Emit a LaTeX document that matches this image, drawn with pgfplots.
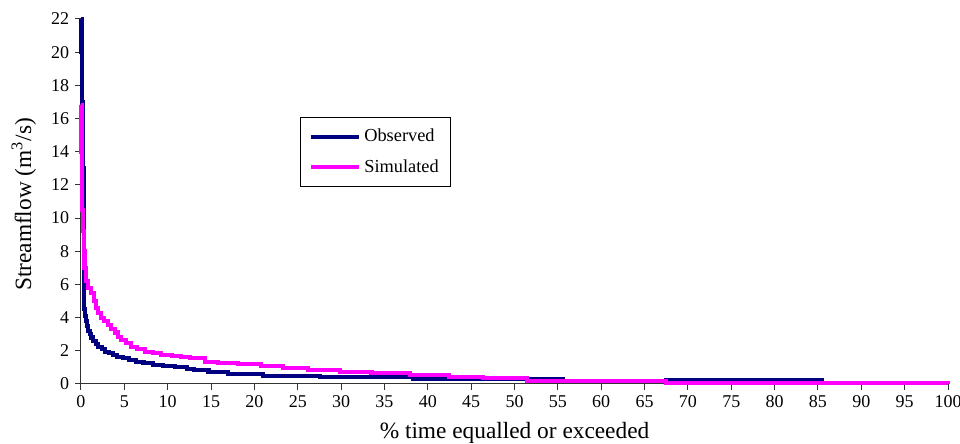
\documentclass[border=0pt]{standalone}
\usepackage{pgfplots}
\pgfplotsset{compat=1.18}
\usepackage{fontspec}
\setmainfont{Liberation Serif}
\definecolor{obs}{RGB}{0,0,128}
\definecolor{sim}{RGB}{255,0,255}
\begin{document}
\begin{tikzpicture}
\useasboundingbox (0,0) rectangle (576pt,266.4pt);
\begin{axis}[
    at={(48.6pt,36pt)}, anchor=south west,
    scale only axis,
    width=520.2pt, height=219pt,
    xmin=0, xmax=100, ymin=0, ymax=22,
    xtick={0,5,...,100}, ytick={0,2,...,22},
    axis x line*=bottom, axis y line*=left,
    axis line style={-, black!80, line width=0.6pt},
    tick style={black!80, line width=0.6pt},
    tick align=outside, major tick length=3.6pt,
    /pgf/number format/assume math mode=true,
    tick label style={font=\fontsize{10.8}{12}\selectfont},
    label style={font=\fontsize{14}{16}\selectfont},
    xlabel={\% time equalled or exceeded},
    ylabel={Streamflow (m\textsuperscript{3}/s)},
    xlabel style={at={(rel axis cs:0.5,-0.134)}, anchor=center},
    ylabel style={at={(rel axis cs:-0.066,0.492)}, anchor=center},
    clip=false,
    legend cell align=left,
    legend image code/.code={\draw[#1] (0pt,0pt) -- (28.8pt,0pt);},
    legend style={at={(rel axis cs:0.2526,0.7315)}, anchor=north west,
      draw=black, line width=0.6pt, font=\fontsize{11}{13}\selectfont,
      row sep=5pt, inner xsep=5pt, inner ysep=5pt},
    ]
% Observed
\addplot[const plot, obs, line width=2.5pt] coordinates {
(0,22) (0.05,20) (0.1,18.5) (0.15,17) (0.2,16) (0.25,13) (0.3,9) (0.33,6.7)
(0.38,4.5) (0.5,4.1) (0.6,3.8) (0.7,3.5) (0.85,3.2) (1.0,3.0) (1.2,2.8)
(1.4,2.6) (1.7,2.4) (2.0,2.25) (2.4,2.1) (2.8,1.95) (3.2,1.85) (3.7,1.75)
(4.2,1.65) (4.8,1.55) (5.5,1.45) (6.3,1.35) (7.2,1.25) (8.3,1.15) (9.5,1.08)
(10.8,1.0) (12.2,0.92) (13.0,0.85) (14.7,0.74) (17.0,0.6) (21.0,0.5)
(27.6,0.4) (38.3,0.29) (55.6,0.2) (67.5,0.22) (85.4,0.06) (99.9,0.06)
};
% Simulated
\addplot[const plot, sim, line width=2.5pt] coordinates {
(0,16.8) (0.05,14) (0.1,12) (0.15,10.5) (0.2,9.2) (0.3,8.0) (0.4,7.0)
(0.6,6.2) (0.8,5.8) (1.2,5.5) (1.5,5.0) (1.7,4.6) (2.0,4.3) (2.3,4.0)
(2.7,3.8) (3.1,3.55) (3.5,3.3) (3.9,3.1) (4.3,2.85) (4.6,2.65) (5.2,2.45)
(5.8,2.25) (6.5,2.1) (7.4,1.95) (8.3,1.85) (9.2,1.75) (10.5,1.68)
(11.5,1.62) (12.6,1.55) (14.3,1.34) (15.8,1.25) (18.1,1.18) (20.8,1.08)
(23.3,0.94) (26.2,0.84) (29.9,0.72) (33.5,0.64) (37.9,0.54) (42.4,0.44)
(46.4,0.34) (51.4,0.2) (67.5,0.05) (100,0.04)
};
\legend{Observed, Simulated}
\end{axis}
\end{tikzpicture}
\end{document}
